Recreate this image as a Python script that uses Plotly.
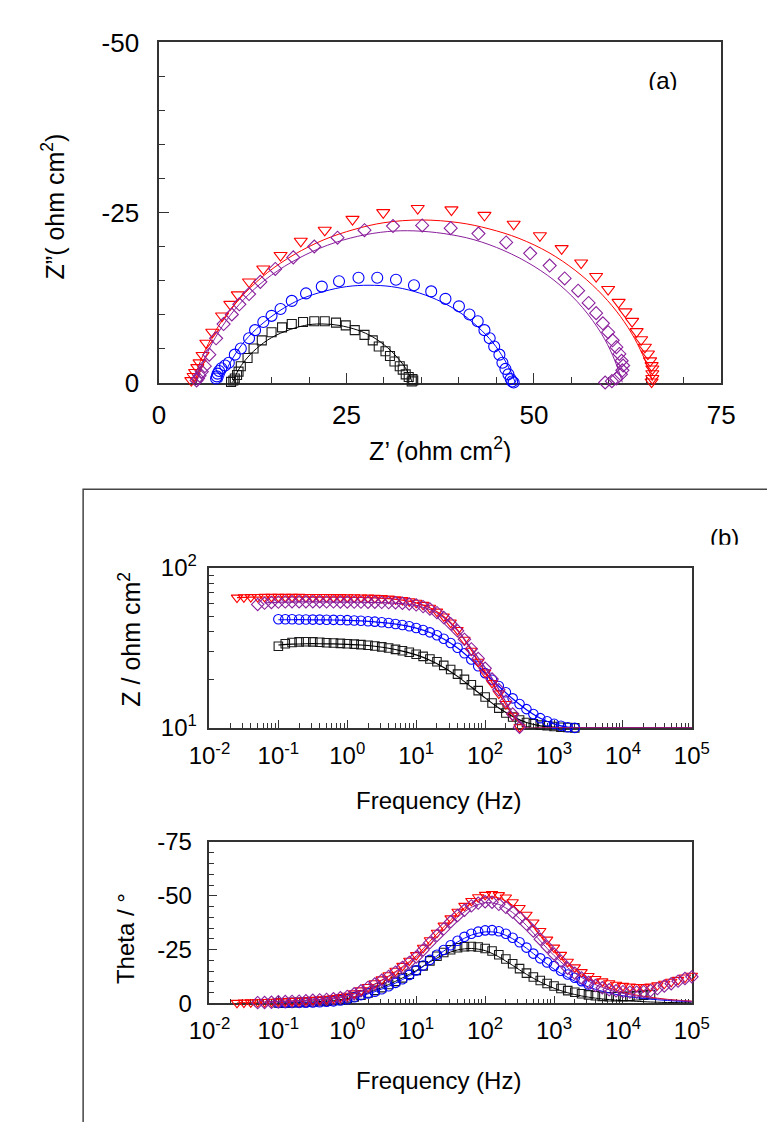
import plotly.graph_objects as go

W, H = 775, 1122
FONT = "Liberation Sans, Arial, sans-serif"

C_BLACK = "#000000"
C_BLUE = "#0000ff"
C_PURPLE = "#8a1f9c"
C_RED = "#ff0000"

# ---------------- (a) Nyquist: measured points (Z', Z'') ----------------
NQ_BLACK_RE = [9.6, 9.9, 10.1, 10.4, 10.6, 10.9, 11.8, 12.6, 13.7, 15.0, 16.4, 17.7, 19.2, 20.7, 22.1, 23.6,
               24.9, 26.1, 27.4, 28.5, 29.3, 30.2, 30.8, 31.4, 32.1, 32.5, 32.9, 33.3, 33.8, 33.9, 33.7, 32.1]
NQ_BLACK_IM = [-0.1, -0.3, -0.6, -1.1, -1.6, -2.4, -3.6, -5.0, -6.2, -7.4, -8.1, -8.6, -8.9, -9.0, -9.0, -8.8,
               -8.4, -7.7, -7.0, -6.2, -5.3, -4.6, -3.9, -3.1, -2.4, -1.9, -1.2, -0.8, -0.5, -0.3, -0.15, 0.05]
NQ_BLUE_RE = [7.6, 7.7, 7.8, 8.0, 8.3, 8.8, 9.3, 10.1, 10.9, 12.0, 12.8, 13.9, 15.0, 16.2, 17.7, 19.6, 21.7,
              24.0, 26.6, 29.1, 31.6, 34.0, 36.3, 38.2, 40.0, 41.4, 42.5, 43.4, 44.1, 44.7, 45.4, 45.8, 46.2,
              46.6, 46.9, 47.1, 47.3, 47.5]
NQ_BLUE_IM = [-0.6, -0.9, -1.3, -1.7, -2.1, -2.5, -2.9, -4.1, -5.0, -6.5, -7.7, -8.9, -9.8, -10.8, -12.0, -13.1,
              -14.1, -14.9, -15.4, -15.4, -15.1, -14.3, -13.4, -12.3, -11.2, -10.0, -9.0, -7.7, -6.5, -5.3,
              -4.1, -2.9, -2.0, -1.2, -0.5, -0.15, 0.0, 0.1]
NQ_RED_RE = [4.3, 4.6, 4.8, 5.1, 5.4, 5.8, 6.3, 7.1, 8.4, 9.5, 10.5, 12.0, 13.9, 16.2, 18.9, 22.1, 25.8, 29.9,
             34.5, 39.0, 43.4, 47.3, 50.8, 53.7, 56.3, 58.3, 59.9, 61.3, 62.2, 63.1, 63.7, 64.3, 64.8, 65.2,
             65.5, 65.7, 65.8, 65.8, 65.8, 65.7]
NQ_RED_IM = [-0.3, -0.9, -1.5, -2.2, -2.9, -4.0, -5.8, -7.4, -9.8, -11.5, -12.9, -14.8, -16.7, -18.7, -20.8,
             -22.4, -24.0, -25.0, -25.6, -25.4, -24.6, -23.3, -21.6, -19.7, -17.6, -15.6, -13.7, -11.8, -10.4,
             -9.0, -7.5, -6.3, -5.2, -4.2, -3.2, -2.5, -2.0, -1.3, -0.6, -0.1]
NQ_PURPLE_RE = [5.0, 5.2, 5.4, 5.7, 6.1, 6.7, 7.6, 8.6, 9.7, 10.7, 12.0, 13.5, 15.5, 17.9, 20.7, 23.8, 27.4,
                31.2, 35.1, 38.9, 42.6, 46.3, 49.5, 52.1, 54.1, 55.9, 57.3, 58.3, 59.2, 59.9, 60.5, 61.0, 61.4,
                61.7, 61.9, 61.8, 61.6, 61.0, 60.4, 59.5]
NQ_PURPLE_IM = [-0.3, -0.6, -1.0, -1.6, -2.4, -4.1, -6.5, -8.6, -10.0, -11.5, -13.0, -14.8, -16.7, -18.4, -20.0,
                -21.3, -22.4, -23.0, -23.1, -22.7, -21.9, -20.6, -19.0, -17.2, -15.3, -13.5, -11.7, -10.2, -8.7,
                -7.4, -6.2, -5.2, -4.2, -3.2, -2.5, -1.8, -1.2, -0.6, -0.2, 0.0]

# ---------------- (a) Nyquist: fitted curves ----------------
FIT_BLACK_RE = [9.8, 10.5, 11.5, 13, 15, 17.5, 20, 22, 24, 26.5, 28.5, 30.5, 32, 33, 33.5, 33.8]
FIT_BLACK_IM = [0, -1.7, -3.3, -5.0, -6.6, -7.8, -8.5, -8.6, -8.4, -7.7, -6.7, -5.1, -3.4, -1.9, -0.8, 0]
FIT_BLUE_RE = [8.3, 9, 10, 11.5, 13.5, 16, 19, 22, 25, 28, 31, 34, 37, 40, 42.5, 44.5, 46, 47, 47.5]
FIT_BLUE_IM = [0, -1.9, -3.9, -6.2, -8.4, -10.5, -12.3, -13.4, -14.1, -14.3, -14.1, -13.4, -12.2, -10.4, -8.2,
               -5.9, -3.5, -1.4, 0]
FIT_RED_RE = [4.5, 5.5, 7, 9, 11.5, 14.5, 18, 22, 26, 30, 35, 40, 44, 48, 52, 55.5, 58.5, 61, 63, 64.5, 65.5, 65.8]
FIT_RED_IM = [0, -3.1, -6.6, -10.0, -13.2, -16.2, -18.8, -21.0, -22.5, -23.5, -23.9, -23.5, -22.6, -21.2, -19.1,
              -16.5, -13.6, -10.5, -7.3, -4.1, -1.3, -0.2]
FIT_PURPLE_RE = [5.0, 6, 7.5, 9.5, 12, 15, 18.5, 22.5, 26.5, 30.5, 34, 38, 42, 46, 50, 53.5, 56.5, 59, 60.5,
                 61.5, 61.8]
FIT_PURPLE_IM = [0, -3.3, -6.6, -9.9, -13.0, -15.8, -18.2, -20.2, -21.5, -22.2, -22.3, -21.9, -21.0, -19.4, -17.1,
                 -14.3, -11.0, -7.2, -4.0, -1.1, 0]

# ---------------- (b) Bode: measured frequencies (Hz) ----------------
F = [0.0251, 0.0316, 0.0398, 0.0501, 0.0631, 0.0794,
     0.1, 0.126, 0.158, 0.2, 0.251, 0.316, 0.398, 0.501, 0.631, 0.794,
     1, 1.26, 1.58, 2.0, 2.51, 3.16, 3.98, 5.01, 6.31, 7.94,
     10, 12.6, 15.8, 20.0, 25.1, 31.6, 39.8, 50.1, 63.1, 79.4,
     100, 126, 158, 200, 251, 316, 398, 501, 631, 794,
     1000, 1260, 1580, 2000, 2510, 3160, 3980, 5010, 6310, 7940,
     10000, 12600, 15800, 20000, 25100, 31600, 39800, 50100, 63100, 79400,
     100000]

# |Z| (ohm cm2), measured
MAG_RED = [65.3, 65.6, 65.8, 65.9, 66.0, 66.0, 66.0, 66.0, 66.0, 66.0,
           65.9, 65.9, 65.9, 65.9, 65.8, 65.8, 65.7, 65.6, 65.5, 65.3,
           65.1, 64.8, 64.4, 63.8, 63.0, 62.0, 60.6, 58.8, 56.4, 53.4,
           49.8, 45.6, 41.0, 35.6, 30.4, 25.9, 22.2, 19.1, 16.4, 14.1,
           11.9, 10.1]
MAG_PURPLE = [59.2, 60.3, 60.9, 61.2, 61.4, 61.5, 61.5,
              61.5, 61.5, 61.5, 61.4, 61.4, 61.3, 61.3, 61.2, 61.2, 61.1,
              61.1, 61.0, 60.8, 60.6, 60.2, 59.6, 58.8, 57.4, 55.4, 52.6,
              49.0, 44.8, 40.5, 35.8, 31.2, 27.2, 23.6, 20.2, 17.3, 14.7,
              12.2, 10.1]
MAG_BLUE = [47.8, 47.8, 47.8, 47.7, 47.7, 47.6, 47.6, 47.5, 47.4, 47.3,
            47.2, 47.0, 46.8, 46.5, 46.2, 45.8, 45.3, 44.7, 44.0, 43.2,
            42.2, 41.0, 39.6, 38.0, 36.1, 34.0, 31.7, 29.3, 26.8, 24.3,
            22.0, 20.0, 18.3, 16.7, 15.3, 14.1, 13.1, 12.2, 11.5, 11.0,
            10.6, 10.3, 10.1, 10.0]
MAG_BLACK = [32.4, 33.6, 34.2, 34.5, 34.6, 34.5, 34.3, 34.1, 34.0, 33.8,
             33.6, 33.4, 33.2, 32.9, 32.5, 32.1, 31.6, 31.0, 30.4, 29.7,
             28.9, 28.0, 27.0, 25.9, 24.6, 23.2, 21.7, 20.1, 18.6, 17.1,
             15.6, 14.3, 13.3, 12.4, 11.7, 11.2, 10.8, 10.6, 10.4, 10.3,
             10.2, 10.1, 10.05, 10.0]
F_MAG_RED = F[0:42]
F_MAG_PURPLE = F[3:42]
F_MAG_BLUE = F[6:50]
F_MAG_BLACK = F[6:50]

# Phase angle (degrees), measured
PH_RED = [-0.2, -0.3, -0.4, -0.5, -0.6, -0.7, -0.9, -1.0, -1.1, -1.2,
          -1.4, -1.6, -1.8, -2.1, -2.4, -2.9, -3.5, -4.6, -6.0, -7.6,
          -9.3, -11.1, -13.0, -15.1, -17.4, -19.8, -22.4, -25.8, -29.3, -32.8,
          -36.1, -39.5, -42.6, -45.3, -47.6, -49.3, -50.4, -50.8, -50.3, -49.2,
          -47.0, -44.3, -41.2, -37.6, -33.6, -29.6, -25.9, -22.5, -19.3, -16.7,
          -14.5, -12.7, -11.3, -10.2, -9.3, -8.6, -8.1, -7.8, -7.6, -7.5,
          -7.8, -8.4, -9.1, -10.0, -10.9, -12.0, -12.8]
PH_PURPLE = [-0.3, -0.4, -0.5, -0.7, -0.8, -0.9, -1.0,
             -1.2, -1.4, -1.6, -1.8, -2.1, -2.6, -3.2, -4.4, -5.8, -7.4,
             -9.0, -10.7, -12.5, -14.5, -16.7, -19.0, -21.5, -24.8, -28.2, -31.5,
             -34.6, -37.9, -40.8, -43.3, -45.3, -46.6, -47.2, -47.0, -46.0, -44.6,
             -42.4, -39.8, -36.8, -33.6, -29.8, -26.3, -22.9, -19.6, -16.3, -14.0,
             -11.8, -9.7, -8.3, -7.2, -6.3, -5.8, -5.4, -5.2, -5.2, -5.4,
             -5.9, -6.8, -8.0, -9.1, -10.3, -11.5, -12.3]
PH_BLUE = [-0.1, -0.1, -0.2, -0.2, -0.3, -0.4, -0.5, -0.7, -0.9, -1.3,
           -1.9, -2.8, -3.8, -4.6, -5.4, -6.5, -7.9, -9.5, -11.2, -13.2,
           -15.3, -17.6, -20.2, -22.6, -24.8, -27.0, -29.1, -30.9, -32.3, -33.3,
           -33.9, -34.0, -33.5, -32.3, -30.5, -28.4, -25.9, -23.1, -20.9, -19.0,
           -17.3, -15.1, -13.4, -11.9, -10.3, -8.7]
PH_BLACK = [-0.1, -0.2, -0.3, -0.4, -0.5, -0.6, -0.8, -1.0, -1.3, -1.7,
            -2.2, -2.9, -3.8, -4.8, -6.0, -7.3, -8.7, -10.2, -11.8, -13.5,
            -15.3, -17.4, -19.7, -21.9, -23.6, -24.9, -25.8, -26.3, -26.4, -26.2,
            -25.5, -24.3, -22.6, -20.6, -18.4, -16.1, -14.0, -12.2, -10.6, -9.2,
            -8.0, -6.9, -5.9, -5.1, -4.4, -3.9, -3.5, -3.2, -3.0, -3.0,
            -3.1, -3.3, -3.5, -3.8, -4.1]
F_PH_RED = F[0:67]
F_PH_PURPLE = F[3:67]
F_PH_BLUE = F[6:52]
F_PH_BLACK = F[6:61]

# ---------------- (b) Bode: fitted curves ----------------
FF = [0.0251, 0.0398, 0.0631, 0.1, 0.158, 0.251, 0.398, 0.631, 1, 1.58, 2.51, 3.98, 6.31,
      10, 15.8, 25.1, 39.8, 63.1, 100, 158, 251, 398, 631, 1000, 1580, 2510, 3980, 6310,
      10000, 15800, 25100, 39800, 63100, 100000]
FIT_MAG_RED = [65.4, 65.8, 65.9, 65.9, 65.9, 65.9, 65.8, 65.8, 65.7, 65.5, 65.1, 64.4, 63.0,
               60.6, 56.4, 49.8, 41.0, 30.6, 22.4, 16.5, 12.0, 10.0, 10.0, 10.0, 10.0, 10.0, 10.0,
               10.0, 10.0, 10.0, 10.0, 10.0, 10.0, 10.0]
FIT_MAG_PURPLE = [60.6, 61.1, 61.3, 61.4, 61.4, 61.3, 61.2, 61.1, 60.9, 60.6, 59.9,
                  58.3, 55.0, 49.0, 40.6, 31.4, 23.8, 17.4, 12.3, 10.0, 10.0, 10.0, 10.0, 10.0, 10.0,
                  10.0, 10.0, 10.0, 10.0, 10.0, 10.0, 10.0]
FIT_MAG_BLUE = [47.5, 47.5, 47.5, 47.4, 47.3, 47.1, 46.7, 46.1, 45.2, 43.9,
                42.1, 39.5, 36.0, 31.6, 26.7, 22.0, 18.2, 15.2, 13.0, 11.5, 10.6, 10.1, 10.0,
                10.0, 10.0, 10.0, 10.0, 10.0, 10.0, 10.0, 10.0]
FIT_MAG_BLACK = [33.0, 33.4, 33.6, 33.6, 33.5, 33.3, 33.0, 32.4, 31.5, 30.2,
                 28.6, 26.5, 23.9, 21.0, 18.0, 15.4, 13.3, 11.8, 10.8, 10.3, 10.1, 10.0,
                 10.0, 10.0, 10.0, 10.0, 10.0, 10.0, 10.0, 10.0, 10.0]
FIT_PH_RED = [-0.2, -0.4, -0.6, -0.9, -1.1, -1.4, -1.8, -2.4, -3.5, -5.8, -9.0, -12.7, -17.0,
              -22.0, -28.8, -35.5, -41.8, -46.5, -49.2, -49.0, -45.6, -39.5, -32.0, -24.8, -18.5,
              -13.5, -9.8, -7.1, -5.2, -3.8, -2.8, -2.0, -1.4, -1.0]
FIT_PH_PURPLE = [-0.5, -0.8, -1.0, -1.3, -1.7, -2.2, -3.3, -5.6, -8.8, -12.4, -16.5,
                 -21.3, -27.6, -34.0, -40.0, -44.6, -46.8, -46.0, -42.2, -36.2, -29.0, -22.2, -16.5,
                 -12.0, -8.7, -6.3, -4.6, -3.4, -2.5, -1.8, -1.3, -0.9]
FIT_PH_BLUE = [0.0, -0.1, -0.2, -0.4, -0.8, -1.7, -3.4, -5.4, -7.9, -11.0,
               -14.8, -19.5, -24.3, -28.5, -31.7, -33.2, -32.8, -30.0, -25.6, -20.6, -15.9, -12.0,
               -8.9, -6.5, -4.8, -3.5, -2.6, -1.9, -1.4, -1.0, -0.7]
FIT_PH_BLACK = [-0.1, -0.3, -0.5, -0.8, -1.3, -2.2, -3.8, -6.0, -8.7, -11.8,
                -15.2, -19.2, -22.6, -24.8, -25.5, -24.5, -21.6, -17.6, -13.5, -9.9, -7.0, -4.9,
                -3.4, -2.4, -1.7, -1.2, -0.9, -0.6, -0.4, -0.3, -0.2]
FF_RED = FF[0:34]
FF_PURPLE = FF[2:34]
FF_BLUE = FF[3:34]
FF_BLACK = FF[3:34]

# ---------------- tick labels / texts ----------------
NQ_X_TICKS = [0, 25, 50, 75]
NQ_Y_TICKS = [-50, -25, 0]
NQ_Y_TEXT = ["-50", "-25", "0"]
DEC_VALS = [0.01, 0.1, 1, 10, 100, 1000, 10000, 100000]
DEC_TEXT = ["10<sup>-2</sup>", "10<sup>-1</sup>", "10<sup>0</sup>", "10<sup>1</sup>",
            "10<sup>2</sup>", "10<sup>3</sup>", "10<sup>4</sup>", "10<sup>5</sup>"]
MAG_Y_VALS = [10, 100]
MAG_Y_TEXT = ["10<sup>1</sup>", "10<sup>2</sup>"]
PH_Y_VALS = [0, -25, -50, -75]
PH_Y_TEXT = ["0", "-25", "-50", "-75"]


def px(x):
    return x / W


def py(y):
    return 1 - y / H


series = [
    dict(color=C_BLACK, edge="#1a1a1a", symbol="square-open", s_nq=9, s_b=8.5,
         nq=(NQ_BLACK_RE, NQ_BLACK_IM), nqfit=(FIT_BLACK_RE, FIT_BLACK_IM),
         mag=(F_MAG_BLACK, MAG_BLACK), ph=(F_PH_BLACK, PH_BLACK),
         fmag=(FF_BLACK, FIT_MAG_BLACK), fph=(FF_BLACK, FIT_PH_BLACK)),
    dict(color=C_BLUE, edge=C_BLUE, symbol="circle-open", s_nq=11, s_b=9.5,
         nq=(NQ_BLUE_RE, NQ_BLUE_IM), nqfit=(FIT_BLUE_RE, FIT_BLUE_IM),
         mag=(F_MAG_BLUE, MAG_BLUE), ph=(F_PH_BLUE, PH_BLUE),
         fmag=(FF_BLUE, FIT_MAG_BLUE), fph=(FF_BLUE, FIT_PH_BLUE)),
    dict(color=C_RED, edge=C_RED, symbol="triangle-down-open", s_nq=11.5, s_b=10,
         nq=(NQ_RED_RE, NQ_RED_IM), nqfit=(FIT_RED_RE, FIT_RED_IM),
         mag=(F_MAG_RED, MAG_RED), ph=(F_PH_RED, PH_RED),
         fmag=(FF_RED, FIT_MAG_RED), fph=(FF_RED, FIT_PH_RED)),
    dict(color=C_PURPLE, edge=C_PURPLE, symbol="diamond-open", s_nq=10, s_b=9.5,
         nq=(NQ_PURPLE_RE, NQ_PURPLE_IM), nqfit=(FIT_PURPLE_RE, FIT_PURPLE_IM),
         mag=(F_MAG_PURPLE, MAG_PURPLE), ph=(F_PH_PURPLE, PH_PURPLE),
         fmag=(FF_PURPLE, FIT_MAG_PURPLE), fph=(FF_PURPLE, FIT_PH_PURPLE)),
]

fig = go.Figure()

for s in series:
    mk = lambda size: dict(symbol=s["symbol"], size=size, color=s["edge"],
                           line=dict(width=1.1, color=s["edge"]))
    # Nyquist
    fig.add_trace(go.Scatter(x=s["nq"][0], y=s["nq"][1], mode="markers", xaxis="x", yaxis="y",
                             marker=mk(s["s_nq"]), cliponaxis=False, hoverinfo="skip"))
    fig.add_trace(go.Scatter(x=s["nqfit"][0], y=s["nqfit"][1], mode="lines", xaxis="x", yaxis="y",
                             line=dict(color=s["color"], width=1, shape="spline", smoothing=1.0),
                             hoverinfo="skip"))
    # Bode magnitude
    fig.add_trace(go.Scatter(x=s["mag"][0], y=s["mag"][1], mode="markers", xaxis="x2", yaxis="y2",
                             marker=mk(s["s_b"]), cliponaxis=False, hoverinfo="skip"))
    fig.add_trace(go.Scatter(x=s["fmag"][0], y=s["fmag"][1], mode="lines", xaxis="x2", yaxis="y2",
                             line=dict(color=s["color"], width=1.2, shape="spline", smoothing=0.6),
                             hoverinfo="skip"))
    # Bode phase
    fig.add_trace(go.Scatter(x=s["ph"][0], y=s["ph"][1], mode="markers", xaxis="x3", yaxis="y3",
                             marker=mk(s["s_b"]), cliponaxis=False, hoverinfo="skip"))
    fig.add_trace(go.Scatter(x=s["fph"][0], y=s["fph"][1], mode="lines", xaxis="x3", yaxis="y3",
                             line=dict(color=s["color"], width=1, shape="spline", smoothing=0.8),
                             hoverinfo="skip"))

# labels cut off at the bottom, as in the reference (clipped by small hidden subplots)
fig.add_trace(go.Scatter(x=[0.5], y=[0.2], mode="text", text=["(a)"], xaxis="x4", yaxis="y4",
                         textposition="middle center", textfont=dict(size=24, color="#000", family=FONT),
                         cliponaxis=True, hoverinfo="skip"))
fig.add_trace(go.Scatter(x=[0.5], y=[0.25], mode="text", text=["Z’ (ohm cm<sup>2</sup>)"],
                         xaxis="x5", yaxis="y5", textposition="middle center",
                         textfont=dict(size=25, color="#000", family=FONT), cliponaxis=True,
                         hoverinfo="skip"))
fig.add_trace(go.Scatter(x=[0.5], y=[0.15], mode="text", text=["(b)"], xaxis="x6", yaxis="y6",
                         textposition="middle center", textfont=dict(size=24, color="#000", family=FONT),
                         cliponaxis=True, hoverinfo="skip"))

AXC = "#333333"
base = dict(showline=True, linecolor=AXC, linewidth=1.5, mirror=True, showgrid=False, zeroline=False,
            ticks="inside", tickcolor=AXC, tickwidth=1, fixedrange=True, layer="below traces")

minor_log_x = [m * 10 ** e for e in range(-2, 5) for m in range(2, 10)]
minor_log_y = [20, 30, 40, 50, 60, 70, 80, 90]

hidden = dict(visible=False, range=[0, 1], fixedrange=True, showgrid=False, zeroline=False)

fig.update_layout(
    width=W, height=H, margin=dict(l=0, r=0, t=0, b=0),
    paper_bgcolor="white", plot_bgcolor="rgba(0,0,0,0)", showlegend=False,
    font=dict(family=FONT, color="#000"),
    xaxis=dict(base, domain=[px(137), px(729)], range=[0, 75], anchor="y",
               tickvals=NQ_X_TICKS, ticklen=10, tickfont=dict(size=26), ticklabelstandoff=9,
               minor=dict(dtick=5, ticks="inside", ticklen=6, tickcolor=AXC, showgrid=False)),
    yaxis=dict(base, domain=[py(368), py(18)], range=[0, -50], anchor="x",
               tickvals=NQ_Y_TICKS, ticktext=NQ_Y_TEXT, ticklen=10, tickfont=dict(size=26),
               ticklabelstandoff=13,
               minor=dict(dtick=5, ticks="inside", ticklen=6, tickcolor=AXC, showgrid=False)),
    xaxis2=dict(base, type="log", domain=[px(190), px(698)], range=[-2, 5], anchor="y2",
                tickvals=DEC_VALS, ticktext=DEC_TEXT, ticklen=8, tickfont=dict(size=24),
                ticklabelstandoff=6,
                minor=dict(tickvals=minor_log_x, ticks="inside", ticklen=5, tickcolor=AXC, showgrid=False)),
    yaxis2=dict(base, type="log", domain=[py(723.5), py(559)], range=[1, 2], anchor="x2",
                tickvals=MAG_Y_VALS, ticktext=MAG_Y_TEXT, ticklen=8, tickfont=dict(size=24),
                ticklabelstandoff=6,
                minor=dict(tickvals=minor_log_y, ticks="inside", ticklen=5, tickcolor=AXC, showgrid=False)),
    xaxis3=dict(base, type="log", domain=[px(190), px(698)], range=[-2, 5], anchor="y3",
                tickvals=DEC_VALS, ticktext=DEC_TEXT, ticklen=8, tickfont=dict(size=24),
                ticklabelstandoff=5,
                minor=dict(tickvals=minor_log_x, ticks="inside", ticklen=5, tickcolor=AXC, showgrid=False)),
    yaxis3=dict(base, domain=[py(1007), py(841)], range=[0, -75], anchor="x3",
                tickvals=PH_Y_VALS, ticktext=PH_Y_TEXT, ticklen=8, tickfont=dict(size=24),
                ticklabelstandoff=11,
                minor=dict(dtick=5, ticks="inside", ticklen=5, tickcolor=AXC, showgrid=False)),
    xaxis4=dict(hidden, domain=[px(560), px(775)], anchor="y4"),
    yaxis4=dict(hidden, domain=[py(67), py(30)], anchor="x4"),
    xaxis5=dict(hidden, domain=[px(137), px(729)], anchor="y5"),
    yaxis5=dict(hidden, domain=[py(450), py(415)], anchor="x5"),
    xaxis6=dict(hidden, domain=[px(690), px(775)], anchor="y6"),
    yaxis6=dict(hidden, domain=[py(535), py(505)], anchor="x6"),
)

# frame around panel (b)
fig.add_shape(type="rect", xref="paper", yref="paper", x0=px(57), x1=1.05, y0=-0.05, y1=py(478),
              line=dict(color="#444444", width=1.5), fillcolor="rgba(0,0,0,0)", layer="below")

ann = dict(xref="paper", yref="paper", showarrow=False, xanchor="center", yanchor="middle")
fig.add_annotation(ann, x=px(25), y=py(187), text="Z”( ohm cm<sup>2</sup>)", textangle=-90,
                   font=dict(size=25, family=FONT, color="#000"))
fig.add_annotation(ann, x=px(106), y=py(632), text="Z / ohm cm<sup>2</sup>", textangle=-90,
                   font=dict(size=25, family=FONT, color="#000"))
fig.add_annotation(ann, x=px(101), y=py(940), text="Theta / °", textangle=-90,
                   font=dict(size=24, family=FONT, color="#000"))
fig.add_annotation(ann, x=px(431), y=py(798), text="Frequency (Hz)",
                   font=dict(size=24, family=FONT, color="#000"))
fig.add_annotation(ann, x=px(431), y=py(1086), text="Frequency (Hz)",
                   font=dict(size=24, family=FONT, color="#000"))

fig.write_html("out.html")
